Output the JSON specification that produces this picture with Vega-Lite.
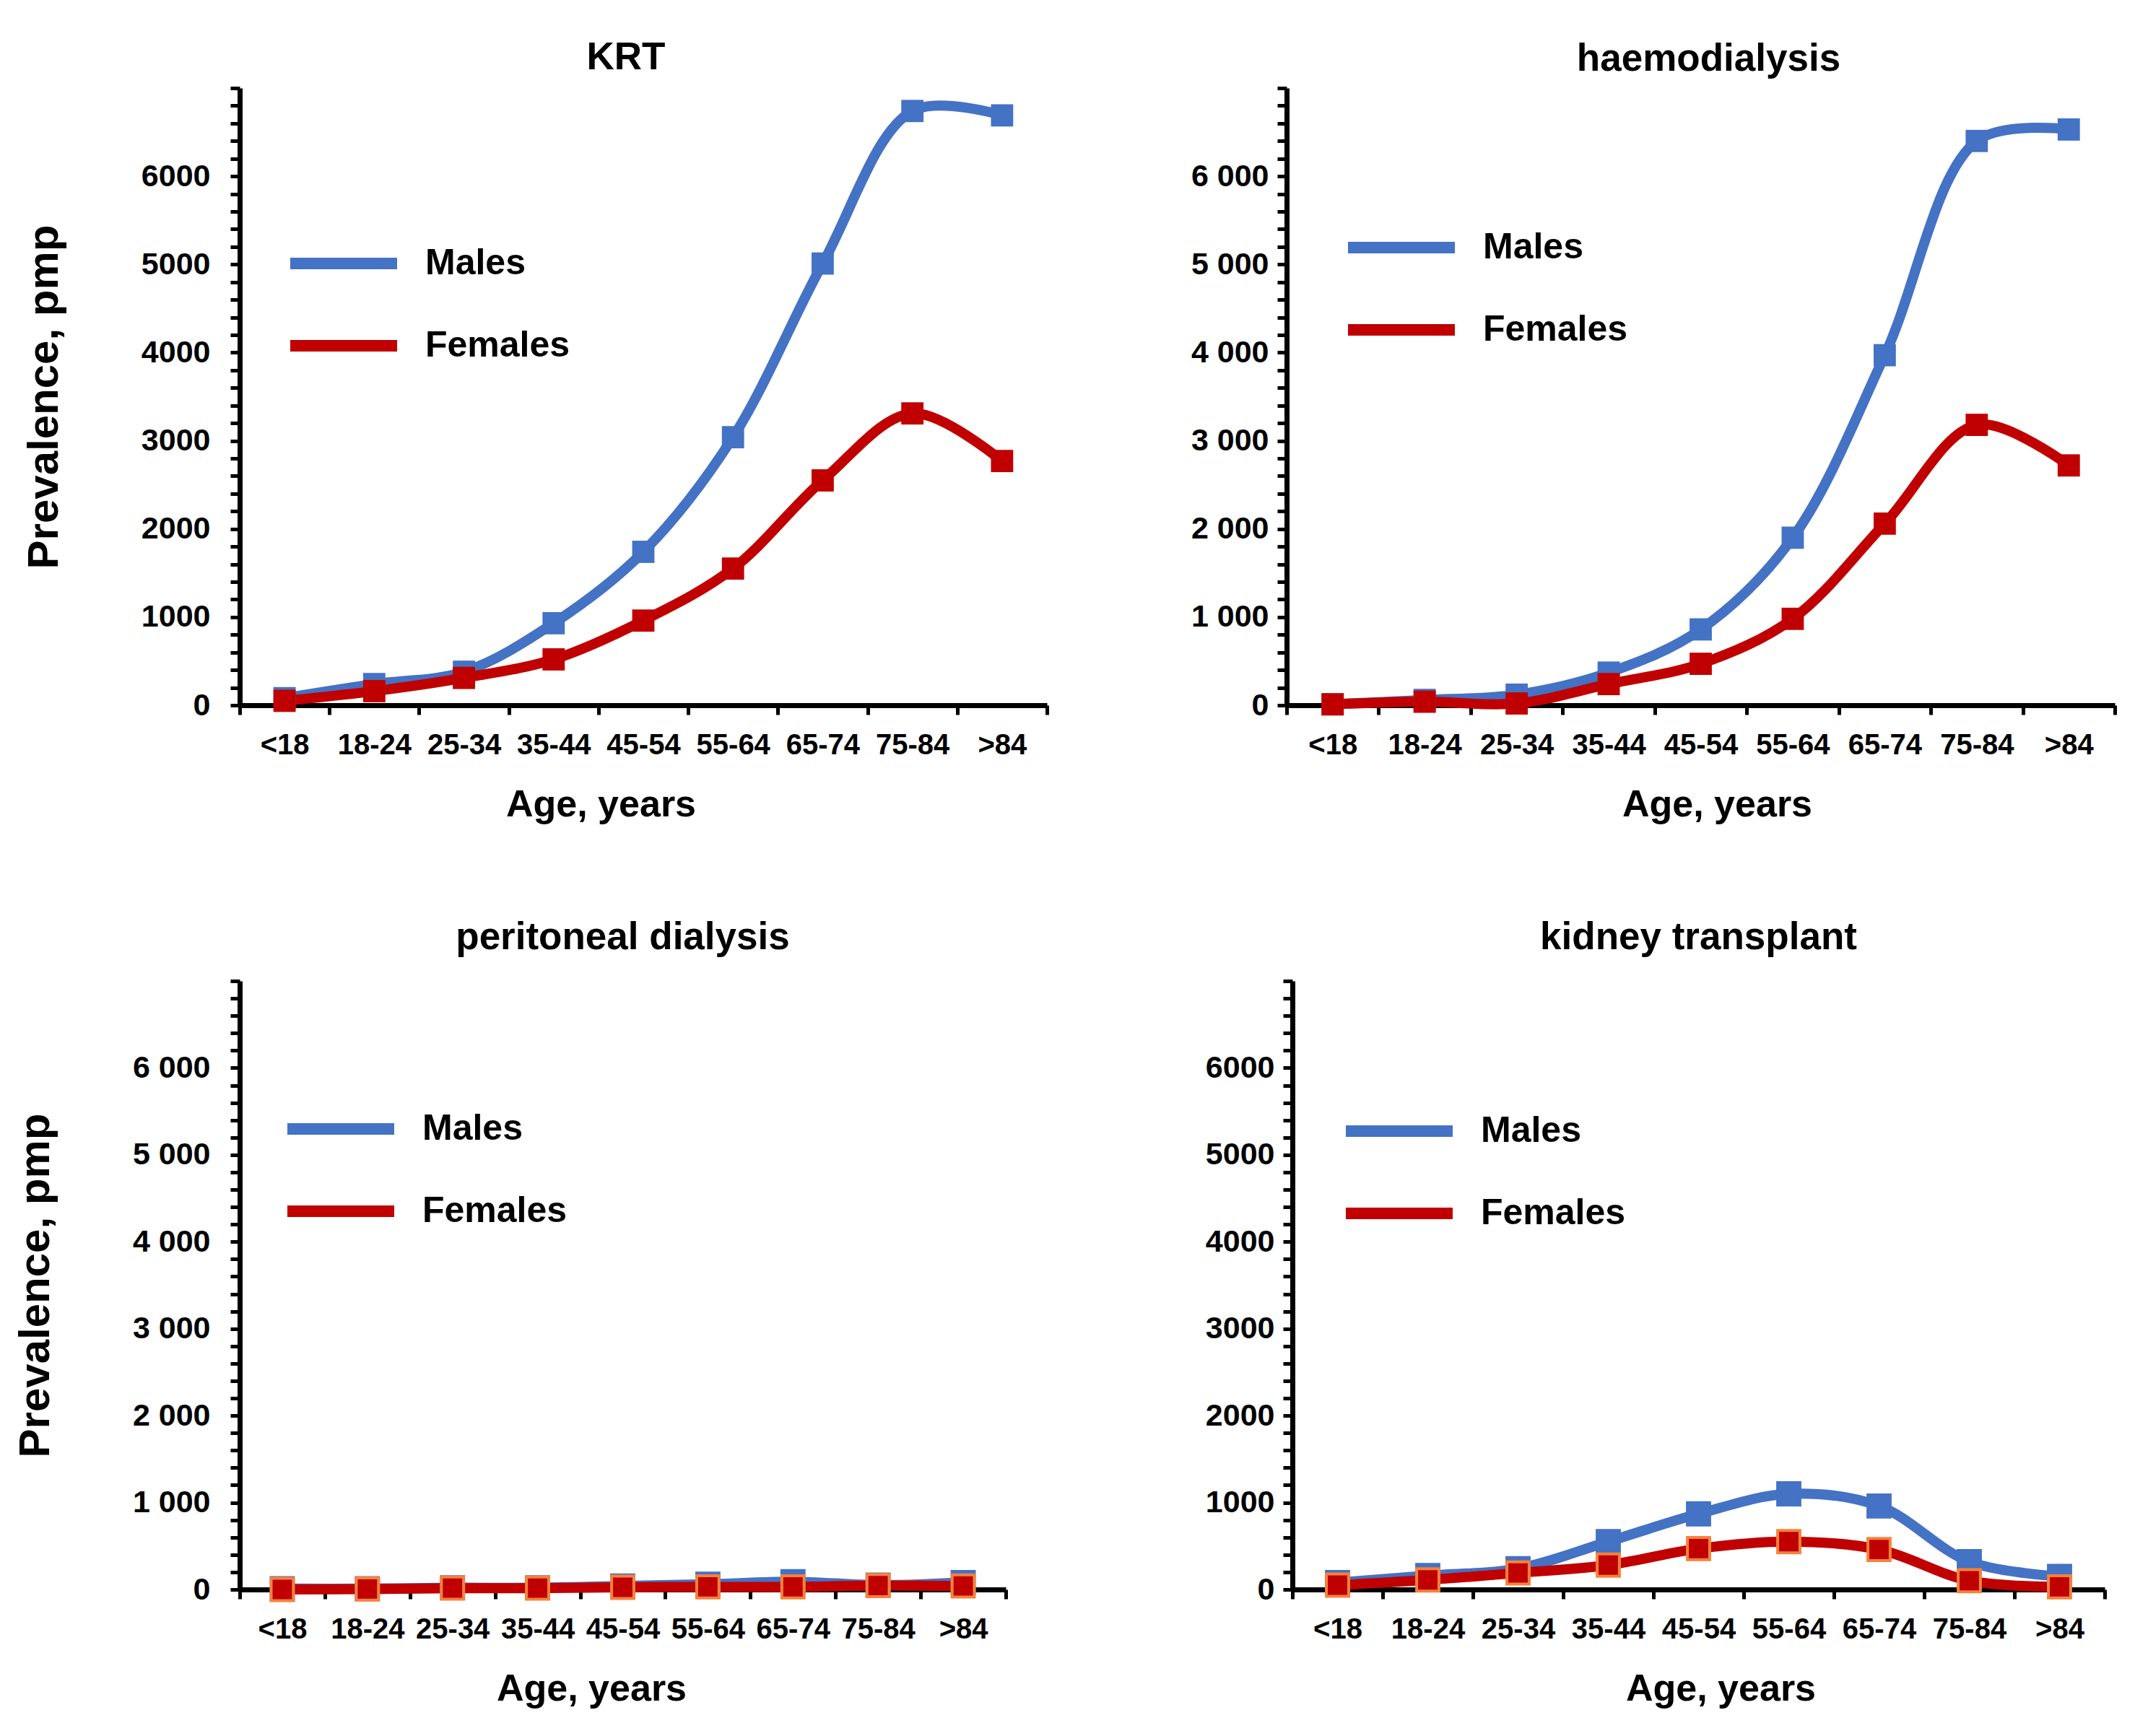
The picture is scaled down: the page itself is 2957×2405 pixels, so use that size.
{
  "$schema": "https://vega.github.io/schema/vega-lite/v6.json",
  "background": "white",
  "padding": {"left": 19, "top": 54, "right": 10, "bottom": 10},
  "config": {
    "font": "Liberation Sans",
    "view": {"stroke": null},
    "title": {"fontSize": 53, "fontWeight": "bold", "color": "black", "anchor": "middle"},
    "axis": {
      "domainColor": "black", "domainWidth": 7,
      "tickColor": "black", "tickWidth": 5, "tickSize": 13,
      "labelFontSize": 40, "labelFontWeight": "bold", "labelColor": "black",
      "titleFontSize": 52, "titleFontWeight": "bold", "titleColor": "black",
      "grid": false
    },
    "axisX": {"titlePadding": 37, "labelAngle": 0, "tickBand": "extent", "labelPadding": 22},
    "axisY": {"titlePadding": 103, "titleFontSize": 60, "labelFontSize": 43},
    "legend": {
      "orient": "none", "symbolType": "stroke", "symbolSize": 21900, "symbolStrokeWidth": 16,
      "labelFontSize": 50, "labelFontWeight": "bold", "labelColor": "black", "labelLimit": 400,
      "labelOffset": 31, "rowPadding": -42
    }
  },
  "datasets": {
    "krt": [
      {"age": "<18", "sex": "Males", "value": 80}, {"age": "18-24", "sex": "Males", "value": 240},
      {"age": "25-34", "sex": "Males", "value": 380}, {"age": "35-44", "sex": "Males", "value": 930},
      {"age": "45-54", "sex": "Males", "value": 1740}, {"age": "55-64", "sex": "Males", "value": 3040},
      {"age": "65-74", "sex": "Males", "value": 5010}, {"age": "75-84", "sex": "Males", "value": 6740},
      {"age": ">84", "sex": "Males", "value": 6690},
      {"age": "<18", "sex": "Females", "value": 50}, {"age": "18-24", "sex": "Females", "value": 160},
      {"age": "25-34", "sex": "Females", "value": 310}, {"age": "35-44", "sex": "Females", "value": 520},
      {"age": "45-54", "sex": "Females", "value": 960}, {"age": "55-64", "sex": "Females", "value": 1550},
      {"age": "65-74", "sex": "Females", "value": 2550}, {"age": "75-84", "sex": "Females", "value": 3310},
      {"age": ">84", "sex": "Females", "value": 2770}
    ],
    "hd": [
      {"age": "<18", "sex": "Males", "value": 10}, {"age": "18-24", "sex": "Males", "value": 60},
      {"age": "25-34", "sex": "Males", "value": 120}, {"age": "35-44", "sex": "Males", "value": 370},
      {"age": "45-54", "sex": "Males", "value": 860}, {"age": "55-64", "sex": "Males", "value": 1900},
      {"age": "65-74", "sex": "Males", "value": 3970}, {"age": "75-84", "sex": "Males", "value": 6400},
      {"age": ">84", "sex": "Males", "value": 6530},
      {"age": "<18", "sex": "Females", "value": 10}, {"age": "18-24", "sex": "Females", "value": 40},
      {"age": "25-34", "sex": "Females", "value": 20}, {"age": "35-44", "sex": "Females", "value": 240},
      {"age": "45-54", "sex": "Females", "value": 470}, {"age": "55-64", "sex": "Females", "value": 980},
      {"age": "65-74", "sex": "Females", "value": 2060}, {"age": "75-84", "sex": "Females", "value": 3180},
      {"age": ">84", "sex": "Females", "value": 2720}
    ],
    "pd": [
      {"age": "<18", "sex": "Males", "value": 10}, {"age": "18-24", "sex": "Males", "value": 10},
      {"age": "25-34", "sex": "Males", "value": 20}, {"age": "35-44", "sex": "Males", "value": 20},
      {"age": "45-54", "sex": "Males", "value": 40}, {"age": "55-64", "sex": "Males", "value": 60},
      {"age": "65-74", "sex": "Males", "value": 90}, {"age": "75-84", "sex": "Males", "value": 50},
      {"age": ">84", "sex": "Males", "value": 80},
      {"age": "<18", "sex": "Females", "value": 0}, {"age": "18-24", "sex": "Females", "value": 5},
      {"age": "25-34", "sex": "Females", "value": 15}, {"age": "35-44", "sex": "Females", "value": 15},
      {"age": "45-54", "sex": "Females", "value": 25}, {"age": "55-64", "sex": "Females", "value": 30},
      {"age": "65-74", "sex": "Females", "value": 30}, {"age": "75-84", "sex": "Females", "value": 45},
      {"age": ">84", "sex": "Females", "value": 40}
    ],
    "kt": [
      {"age": "<18", "sex": "Males", "value": 80}, {"age": "18-24", "sex": "Males", "value": 160},
      {"age": "25-34", "sex": "Males", "value": 240}, {"age": "35-44", "sex": "Males", "value": 550},
      {"age": "45-54", "sex": "Males", "value": 870}, {"age": "55-64", "sex": "Males", "value": 1100},
      {"age": "65-74", "sex": "Males", "value": 960}, {"age": "75-84", "sex": "Males", "value": 320},
      {"age": ">84", "sex": "Males", "value": 150},
      {"age": "<18", "sex": "Females", "value": 50}, {"age": "18-24", "sex": "Females", "value": 110},
      {"age": "25-34", "sex": "Females", "value": 190}, {"age": "35-44", "sex": "Females", "value": 280},
      {"age": "45-54", "sex": "Females", "value": 470}, {"age": "55-64", "sex": "Females", "value": 550},
      {"age": "65-74", "sex": "Females", "value": 460}, {"age": "75-84", "sex": "Females", "value": 100},
      {"age": ">84", "sex": "Females", "value": 30}
    ]
  },
  "spacing": 132,
  "vconcat": [
    {
      "spacing": 196,
      "hconcat": [
        {
          "title": {"text": "KRT", "offset": 11, "dx": -24},
          "width": 1118, "height": 855,
          "data": {"name": "krt"},
          "encoding": {
            "x": {"field": "age", "type": "ordinal", "sort": ["<18", "18-24", "25-34", "35-44", "45-54", "55-64", "65-74", "75-84", ">84"],
                  "scale": {"type": "band", "paddingInner": 0, "paddingOuter": 0}, "axis": {"title": "Age, years", "titleX": 500}},
            "y": {"field": "value", "type": "quantitative", "scale": {"domain": [0, 7000], "nice": false},
                  "axis": {"title": "Prevalence, pmp", "labelPadding": 28, "values": [0,200,400,600,800,1000,1200,1400,1600,1800,2000,2200,2400,2600,2800,3000,3200,3400,3600,3800,4000,4200,4400,4600,4800,5000,5200,5400,5600,5800,6000,6200,6400,6600,6800,7000],
                           "labelExpr": "datum.value % 1000 === 0 && datum.value < 7000 ? format(datum.value, 'd') : ''"}}
          },
          "layer": [
            {"mark": {"type": "line", "interpolate": "catmull-rom", "strokeWidth": 14},
             "encoding": {"color": {"field": "sex", "type": "nominal", "scale": {"domain": ["Males", "Females"], "range": ["#4472C4", "#C00000"]},
                                    "legend": {"title": null, "legendX": 62, "legendY": 161}}}},
            {"mark": {"type": "square", "size": 950, "opacity": 1, "filled": true},
             "encoding": {"color": {"field": "sex", "type": "nominal", "legend": null}}}
          ]
        },
        {
          "title": {"text": "haemodialysis", "offset": 11, "dx": 11},
          "width": 1147, "height": 855,
          "data": {"name": "hd"},
          "encoding": {
            "x": {"field": "age", "type": "ordinal", "sort": ["<18", "18-24", "25-34", "35-44", "45-54", "55-64", "65-74", "75-84", ">84"],
                  "scale": {"type": "band", "paddingInner": 0, "paddingOuter": 0}, "axis": {"title": "Age, years", "titleX": 596}},
            "y": {"field": "value", "type": "quantitative", "scale": {"domain": [0, 7000], "nice": false},
                  "axis": {"title": null, "labelPadding": 12, "values": [0,200,400,600,800,1000,1200,1400,1600,1800,2000,2200,2400,2600,2800,3000,3200,3400,3600,3800,4000,4200,4400,4600,4800,5000,5200,5400,5600,5800,6000,6200,6400,6600,6800,7000],
                           "labelExpr": "datum.value % 1000 === 0 && datum.value < 7000 ? replace(format(datum.value, ','), ',', ' ') : ''"}}
          },
          "layer": [
            {"mark": {"type": "line", "interpolate": "catmull-rom", "strokeWidth": 14},
             "encoding": {"color": {"field": "sex", "type": "nominal", "scale": {"domain": ["Males", "Females"], "range": ["#4472C4", "#C00000"]},
                                    "legend": {"title": null, "legendX": 77, "legendY": 139}}}},
            {"mark": {"type": "square", "size": 950, "opacity": 1, "filled": true},
             "encoding": {"color": {"field": "sex", "type": "nominal", "legend": null}}}
          ]
        }
      ],
      "resolve": {"scale": {"color": "independent"}}
    },
    {
      "spacing": 273,
      "hconcat": [
        {
          "title": {"text": "peritoneal dialysis", "offset": 31},
          "width": 1061, "height": 843,
          "data": {"name": "pd"},
          "encoding": {
            "x": {"field": "age", "type": "ordinal", "sort": ["<18", "18-24", "25-34", "35-44", "45-54", "55-64", "65-74", "75-84", ">84"],
                  "scale": {"type": "band", "paddingInner": 0, "paddingOuter": 0}, "axis": {"title": "Age, years", "titleX": 487}},
            "y": {"field": "value", "type": "quantitative", "scale": {"domain": [0, 7000], "nice": false},
                  "axis": {"title": "Prevalence, pmp", "labelPadding": 28, "values": [0,200,400,600,800,1000,1200,1400,1600,1800,2000,2200,2400,2600,2800,3000,3200,3400,3600,3800,4000,4200,4400,4600,4800,5000,5200,5400,5600,5800,6000,6200,6400,6600,6800,7000],
                           "labelExpr": "datum.value % 1000 === 0 && datum.value < 7000 ? replace(format(datum.value, ','), ',', ' ') : ''"}}
          },
          "layer": [
            {"mark": {"type": "line", "interpolate": "catmull-rom", "strokeWidth": 14},
             "encoding": {"color": {"field": "sex", "type": "nominal", "scale": {"domain": ["Males", "Females"], "range": ["#4472C4", "#C00000"]},
                                    "legend": {"title": null, "legendX": 58, "legendY": 123}}}},
            {"mark": {"type": "square", "size": 950, "opacity": 1, "filled": true, "strokeWidth": 4},
             "encoding": {"color": {"field": "sex", "type": "nominal", "legend": null},
                          "stroke": {"condition": {"test": "datum.sex === 'Females'", "value": "#F4823C"}, "value": "#4472C4"}}}
          ]
        },
        {
          "title": {"text": "kidney transplant", "offset": 31},
          "width": 1125, "height": 843,
          "data": {"name": "kt"},
          "encoding": {
            "x": {"field": "age", "type": "ordinal", "sort": ["<18", "18-24", "25-34", "35-44", "45-54", "55-64", "65-74", "75-84", ">84"],
                  "scale": {"type": "band", "paddingInner": 0, "paddingOuter": 0}, "axis": {"title": "Age, years", "titleX": 593}},
            "y": {"field": "value", "type": "quantitative", "scale": {"domain": [0, 7000], "nice": false},
                  "axis": {"title": null, "labelPadding": 12, "values": [0,200,400,600,800,1000,1200,1400,1600,1800,2000,2200,2400,2600,2800,3000,3200,3400,3600,3800,4000,4200,4400,4600,4800,5000,5200,5400,5600,5800,6000,6200,6400,6600,6800,7000],
                           "labelExpr": "datum.value % 1000 === 0 && datum.value < 7000 ? format(datum.value, 'd') : ''"}}
          },
          "layer": [
            {"mark": {"type": "line", "interpolate": "catmull-rom", "strokeWidth": 14},
             "encoding": {"color": {"field": "sex", "type": "nominal", "scale": {"domain": ["Males", "Females"], "range": ["#4472C4", "#C00000"]},
                                    "legend": {"title": null, "legendX": 66, "legendY": 126}}}},
            {"mark": {"type": "square", "size": 950, "opacity": 1, "filled": true, "strokeWidth": 4},
             "encoding": {"color": {"field": "sex", "type": "nominal", "legend": null},
                          "stroke": {"condition": {"test": "datum.sex === 'Females'", "value": "#F4823C"}, "value": "#4472C4"}}}
          ]
        }
      ],
      "resolve": {"scale": {"color": "independent"}}
    }
  ],
  "resolve": {"scale": {"color": "independent"}}
}
